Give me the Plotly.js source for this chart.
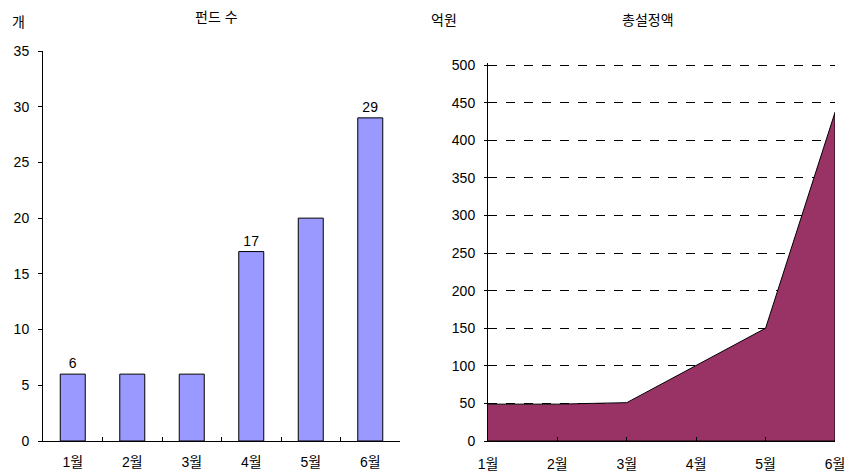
<!DOCTYPE html>
<html><head><meta charset="utf-8">
<script src="https://cdn.plot.ly/plotly-3.0.1.min.js"></script>
<style>html,body{margin:0;padding:0;background:#fff}#c{width:847px;height:473px}</style>
</head><body><div id="c"></div>
<script>
const months = ['1월','2월','3월','4월','5월','6월'];
const fundCounts = [6, 6, 6, 17, 20, 29];
const labeledMonths = ['1월','4월','6월'];
const totalAmount = [49, 49, 51, 100, 150, 437];
const amountTicks = [0,50,100,150,200,250,300,350,400,450,500];

const FONT = 'Liberation Sans, Arial, "Noto Sans CJK KR", sans-serif';
const barText = months.map((m,i)=> labeledMonths.includes(m) ? String(fundCounts[i]) : '');

const polyX = months.concat([months[months.length-1], months[0]]);
const polyY = totalAmount.concat([0, 0]);

const data = [
  {type:'bar', x: months, y: fundCounts, xaxis:'x', yaxis:'y',
   marker:{color:'#9999FF', line:{color:'#000', width:1}},
   text: barText, textposition:'outside', cliponaxis:false,
   textfont:{family:FONT, size:14, color:'#000'}, hoverinfo:'none'},
  {type:'scatter', mode:'lines', x: polyX, y: polyY, xaxis:'x2', yaxis:'y2',
   fill:'toself', fillcolor:'#993366', line:{color:'#000', width:1}, hoverinfo:'none'}
];

const layout = {
  width:847, height:473, margin:{l:0,r:0,t:0,b:0},
  paper_bgcolor:'#fff', plot_bgcolor:'rgba(0,0,0,0)', showlegend:false,
  font:{family:FONT, size:14, color:'#000'},
  bargap:0.58,
  xaxis:{domain:[43/847, 400/847], anchor:'y', type:'category', range:[-0.5,5.5],
    showline:true, linecolor:'#000', linewidth:1, ticks:'inside', ticklen:4, tickcolor:'#000',
    tickson:'boundaries', showgrid:false, zeroline:false, tickfont:{size:14}, ticklabelstandoff:8, fixedrange:true},
  yaxis:{domain:[32/473, 422/473], anchor:'x', range:[0,35], dtick:5,
    showline:true, linecolor:'#000', linewidth:1, ticks:'outside', ticklen:4, tickcolor:'#000',
    showgrid:false, zeroline:false, tickfont:{size:14}, ticklabelstandoff:6},
  xaxis2:{domain:[488/847, 835/847], anchor:'y2', type:'category', range:[0,5],
    showline:true, linecolor:'#000', linewidth:1, ticks:'inside', ticklen:4, tickcolor:'#000',
    showgrid:false, zeroline:false, tickfont:{size:14}, ticklabelstandoff:10},
  yaxis2:{domain:[32/473, 410.256/473], anchor:'x2', range:[0,503], tickvals:amountTicks,
    showline:true, linecolor:'#000', linewidth:1, ticks:'outside', ticklen:3, tickcolor:'#000',
    showgrid:true, gridcolor:'#000', gridwidth:1, griddash:'dash', zeroline:false,
    tickfont:{size:14}, ticklabelstandoff:6},
  annotations:[
    {text:'펀드 수', xref:'paper', yref:'paper', x:217/847, y:1-17/473, showarrow:false, xanchor:'center', yanchor:'middle', font:{size:14}},
    {text:'개', xref:'paper', yref:'paper', x:18/847, y:1-22/473, showarrow:false, xanchor:'center', yanchor:'middle', font:{size:14}},
    {text:'총설정액', xref:'paper', yref:'paper', x:648/847, y:1-20/473, showarrow:false, xanchor:'center', yanchor:'middle', font:{size:14}},
    {text:'억원', xref:'paper', yref:'paper', x:444/847, y:1-20/473, showarrow:false, xanchor:'center', yanchor:'middle', font:{size:14}}
  ]
};
Plotly.newPlot('c', data, layout, {displayModeBar:false, staticPlot:true});
</script></body></html>
